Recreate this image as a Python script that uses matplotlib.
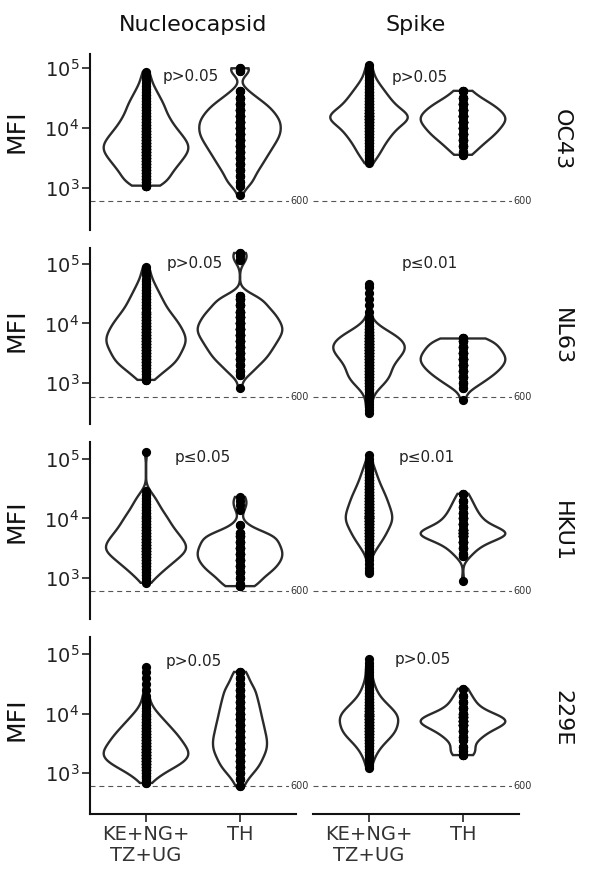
import numpy as np
import matplotlib
matplotlib.use("Agg")
import matplotlib.pyplot as plt
from matplotlib.transforms import blended_transform_factory

# ---------------- data (MFI values and how many samples share each value) ----------------
antigens = ["Nucleocapsid", "Spike"]
viruses = ["OC43", "NL63", "HKU1", "229E"]
groups = ["KE+NG+\nTZ+UG", "TH"]
cutoff = 600

p_labels = ["p>0.05", "p>0.05",
            "p>0.05", "p\u22640.01",
            "p\u22640.05", "p\u22640.01",
            "p>0.05", "p>0.05"]

oc43_n_ke_mfi = [1100, 1260, 1410, 1580, 1780, 2000, 2240, 2510, 2820, 3160, 3550, 3980, 4470, 5010, 5620, 6310, 7080, 7940, 8910, 10000,
                 11200, 12600, 14100, 15800, 17800, 20000, 22400, 25100, 28200, 31600, 35500, 39800, 44700, 50100, 56200, 63100, 70800, 79400, 87000]
oc43_n_ke_cnt = [6, 4, 5, 5, 5, 6, 6, 7, 7, 8, 8, 9, 9, 9, 9, 8, 8, 7, 7, 6,
                 6, 5, 5, 5, 4, 4, 4, 4, 3, 3, 3, 2, 2, 2, 1, 1, 1, 1, 1]
oc43_n_th_mfi = [770, 1100, 1260, 1580, 2000, 2510, 3160, 3980, 5010, 6310, 7940, 10000, 12600, 15800, 20000, 25100, 31600, 41000, 89000, 95000, 100000]
oc43_n_th_cnt = [1, 2, 3, 4, 5, 6, 7, 8, 9, 10, 11, 11, 11, 10, 9, 7, 5, 3, 2, 2, 2]
oc43_s_ke_mfi = [2600, 2820, 3160, 3550, 3980, 4470, 5010, 5620, 6310, 7080, 7940, 8910, 10000, 11200, 12600, 14100, 15800, 17800,
                 20000, 22400, 25100, 28200, 31600, 35500, 39800, 44700, 50100, 56200, 63100, 70800, 79400, 89100, 100000, 115000]
oc43_s_ke_cnt = [1, 1, 2, 2, 3, 3, 3, 4, 4, 5, 5, 6, 6, 7, 8, 10, 11, 9,
                 7, 6, 6, 5, 5, 4, 4, 3, 3, 2, 2, 1, 1, 1, 1, 1]
oc43_s_th_mfi = [3600, 3980, 5010, 6310, 7940, 10000, 12600, 15800, 20000, 25100, 31600, 42000]
oc43_s_th_cnt = [2, 3, 6, 8, 11, 12, 14, 15, 12, 10, 6, 4]

nl63_n_ke_mfi = [1140, 1260, 1410, 1580, 1780, 2000, 2240, 2510, 2820, 3160, 3550, 3980, 4470, 5010, 5620, 6310, 7080, 7940, 8910, 10000,
                 11200, 12600, 14100, 15800, 17800, 20000, 22400, 25100, 28200, 31600, 35500, 39800, 44700, 50100, 56200, 63100, 70800, 79400, 88000]
nl63_n_ke_cnt = [3, 2, 3, 4, 5, 6, 7, 7, 7, 8, 8, 8, 9, 9, 9, 9, 8, 8, 8, 7,
                 7, 6, 6, 5, 5, 4, 4, 4, 3, 3, 3, 2, 2, 2, 1, 1, 1, 1, 1]
nl63_n_th_mfi = [830, 1380, 1580, 2000, 2510, 3160, 3980, 5010, 6310, 7940, 10000, 12600, 15800, 20000, 25100, 29000, 115000, 135000, 150000]
nl63_n_th_cnt = [1, 2, 3, 5, 7, 8, 9, 10, 11, 12, 11, 10, 9, 7, 6, 3, 2, 1, 2]
nl63_s_ke_mfi = [320, 355, 398, 447, 501, 562, 631, 708, 794, 891, 1000, 1120, 1260, 1410, 1580, 1780, 2000, 2240, 2510, 2820,
                 3160, 3550, 3980, 4470, 5010, 5620, 6310, 7080, 7940, 8910, 10000, 11200, 12600, 15800, 20000, 25100, 31600, 39800, 46000]
nl63_s_ke_cnt = [1, 1, 1, 1, 1, 1, 1, 2, 3, 4, 5, 6, 7, 7, 7, 7, 8, 8, 9, 10,
                 11, 12, 12, 12, 11, 10, 9, 7, 5, 3, 2, 1, 1, 1, 1, 1, 1, 1, 1]
nl63_s_th_mfi = [520, 830, 1000, 1260, 1580, 2000, 2510, 3160, 3980, 5010, 5600]
nl63_s_th_cnt = [1, 2, 4, 6, 8, 9, 10, 9, 8, 6, 4]

hku1_n_ke_mfi = [830, 891, 1000, 1120, 1260, 1410, 1580, 1780, 2000, 2240, 2510, 2820, 3160, 3550, 3980, 4470, 5010, 5620, 6310, 7080,
                 7940, 8910, 10000, 11200, 12600, 14100, 15800, 17800, 20000, 22400, 25100, 29000, 130000]
hku1_n_ke_cnt = [1, 1, 2, 3, 3, 4, 5, 6, 6, 7, 8, 9, 9, 9, 8, 8, 7, 7, 6, 6,
                 5, 5, 5, 4, 4, 3, 3, 3, 2, 2, 2, 1, 1]
hku1_n_th_mfi = [730, 800, 1000, 1260, 1580, 2000, 2510, 3160, 3980, 5010, 5600, 7700, 14000, 17000, 20000, 23000]
hku1_n_th_cnt = [3, 2, 4, 6, 7, 8, 8, 8, 7, 6, 4, 2, 1, 1, 1, 1]
hku1_s_ke_mfi = [1200, 1300, 1500, 1700, 2000, 2240, 2510, 2820, 3160, 3550, 3980, 4470, 5010, 5620, 6310, 7080, 7940, 8910, 10000, 11200,
                 12600, 14100, 15800, 17800, 20000, 22400, 25100, 28200, 31600, 35500, 39800, 44700, 50100, 56200, 63100, 70800, 79400, 89100, 100000, 118000]
hku1_s_ke_cnt = [1, 1, 1, 1, 1, 1, 2, 3, 4, 5, 6, 7, 8, 9, 9, 10, 11, 12, 12, 12,
                 11, 11, 10, 10, 9, 9, 8, 7, 7, 6, 5, 5, 4, 4, 3, 3, 2, 2, 1, 1]
hku1_s_th_mfi = [880, 2300, 2510, 3160, 3980, 5010, 5600, 6310, 7940, 10000, 12600, 15800, 20000, 26000]
hku1_s_th_cnt = [1, 2, 3, 6, 10, 13, 14, 12, 10, 8, 6, 5, 4, 3]

e229_n_ke_mfi = [680, 750, 830, 891, 1000, 1120, 1260, 1410, 1580, 1780, 2000, 2240, 2510, 2820, 3160, 3550, 3980, 4470, 5010, 5620,
                 6310, 7080, 7940, 8910, 10000, 11200, 12600, 14100, 15800, 17800, 20000, 25100, 31600, 39800, 50100, 60000]
e229_n_ke_cnt = [2, 1, 2, 3, 4, 6, 7, 9, 10, 11, 11, 11, 10, 10, 9, 9, 8, 8, 7, 6,
                 6, 5, 4, 4, 3, 2, 2, 1, 1, 1, 1, 1, 1, 1, 1, 1]
e229_n_th_mfi = [600, 790, 1000, 1260, 1580, 2000, 2510, 3160, 3980, 5010, 6310, 7940, 10000, 12600, 15800, 20000, 25100, 31600, 39800, 50000]
e229_n_th_cnt = [2, 3, 5, 7, 8, 9, 10, 10, 10, 9, 9, 8, 8, 7, 7, 6, 6, 4, 3, 3]
e229_s_ke_mfi = [1200, 1300, 1410, 1580, 1780, 2000, 2240, 2510, 2820, 3160, 3550, 3980, 4470, 5010, 5620, 6310, 7080, 7940, 8910, 10000,
                 11200, 12600, 14100, 15800, 17800, 20000, 22400, 25100, 28200, 31600, 35500, 39800, 44700, 50100, 56200, 63100, 70800, 83000]
e229_s_ke_cnt = [1, 1, 1, 1, 2, 2, 3, 3, 4, 5, 6, 7, 8, 9, 9, 9, 9, 10, 10, 9,
                 8, 7, 6, 5, 4, 3, 3, 2, 2, 2, 1, 1, 1, 1, 1, 1, 1, 1]
e229_s_th_mfi = [2000, 2300, 2700, 3600, 3980, 5010, 6310, 7400, 8600, 10000, 12600, 15800, 20000, 26000]
e229_s_th_cnt = [4, 3, 3, 3, 5, 8, 11, 12, 9, 7, 5, 4, 3, 2]

panel_data = [
    [(oc43_n_ke_mfi, oc43_n_ke_cnt, oc43_n_th_mfi, oc43_n_th_cnt),
     (oc43_s_ke_mfi, oc43_s_ke_cnt, oc43_s_th_mfi, oc43_s_th_cnt)],
    [(nl63_n_ke_mfi, nl63_n_ke_cnt, nl63_n_th_mfi, nl63_n_th_cnt),
     (nl63_s_ke_mfi, nl63_s_ke_cnt, nl63_s_th_mfi, nl63_s_th_cnt)],
    [(hku1_n_ke_mfi, hku1_n_ke_cnt, hku1_n_th_mfi, hku1_n_th_cnt),
     (hku1_s_ke_mfi, hku1_s_ke_cnt, hku1_s_th_mfi, hku1_s_th_cnt)],
    [(e229_n_ke_mfi, e229_n_ke_cnt, e229_n_th_mfi, e229_n_th_cnt),
     (e229_s_ke_mfi, e229_s_ke_cnt, e229_s_th_mfi, e229_s_th_cnt)],
]

# ---------------- layout / style ----------------
W, H = 600, 880
col_x = [89.6, 312.6]
col_w = 206.8
row_top = [54, 248, 442.5, 637]
row_h = 176.5
ylims = [(2.293, 5.238), (2.312, 5.259), (2.311, 5.277), (2.319, 5.286)]
p_pos = [(0.48, 4.855), (0.54, 4.84), (0.52, 5.0), (0.65, 5.0),
         (0.60, 5.02), (0.61, 5.02), (0.51, 4.88), (0.57, 4.9)]
mfi_y = [131, 330, 521, 719]
row_lab_y = [140, 337, 531, 718]
BW = 0.1
LINE = "#2b2b2b"

plt.rcParams["font.family"] = ["DejaVu Sans"]
fig = plt.figure(figsize=(6, 8.8), dpi=100)


def kde(logv, grid, bw):
    z = (grid[:, None] - logv[None, :]) / bw
    return np.exp(-0.5 * z * z).sum(axis=1) / (len(logv) * bw * np.sqrt(2 * np.pi))


for r in range(4):
    for c in range(2):
        ax = fig.add_axes([col_x[c] / W, 1 - (row_top[r] + row_h) / H, col_w / W, row_h / H])
        ax.set_yscale("log")
        ax.set_ylim(10 ** ylims[r][0], 10 ** ylims[r][1])
        ax.set_xlim(-0.6, 1.6)
        ke_v, ke_c, th_v, th_c = panel_data[r][c]
        samples = [np.repeat(np.asarray(ke_v, float), ke_c),
                   np.repeat(np.asarray(th_v, float), th_c)]
        curves = []
        for s in samples:
            lv = np.log10(s)
            grid = np.linspace(lv.min(), lv.max(), 512)
            curves.append((grid, kde(lv, grid, BW)))
        dmax = max(d.max() for _, d in curves)
        for pos, (grid, d), s in zip([0, 1], curves, samples):
            hw = 0.45 * d / dmax
            xs = np.r_[pos - hw, (pos + hw)[::-1]]
            ys = 10 ** np.r_[grid, grid[::-1]]
            ax.fill(xs, ys, facecolor="white", edgecolor=LINE, lw=1.7, zorder=2)
            ax.scatter(np.full(len(s), pos), s, s=44, c="black", linewidths=0, zorder=3)

        ax.axhline(cutoff, color="#555555", lw=0.8, ls=(0, (4.5, 3.5)), zorder=1)
        tr = blended_transform_factory(ax.transAxes, ax.transData)
        ax.text(1.015, cutoff, "600", transform=tr, ha="center", va="center",
                fontsize=7, color="#333333", clip_on=False, zorder=4,
                bbox=dict(facecolor="white", edgecolor="none", pad=0.8))
        px, py = p_pos[r * 2 + c]
        ax.text(px, 10 ** py, p_labels[r * 2 + c], ha="center", va="center",
                fontsize=11, color="#222222")

        for sp in ax.spines.values():
            sp.set_visible(False)
        ax.minorticks_off()
        if c == 0:
            ax.spines["left"].set_visible(True)
            ax.spines["left"].set_linewidth(1.5)
            ax.spines["left"].set_color("#111111")
            ax.set_yticks([1e3, 1e4, 1e5])
            ax.set_yticklabels([r"$10^{3}$", r"$10^{4}$", r"$10^{5}$"])
            ax.tick_params(axis="y", length=5.5, width=1.2, labelsize=14,
                           labelcolor="#222222", color="#222222", pad=2)
        else:
            ax.set_yticks([])
        if r == 3:
            ax.spines["bottom"].set_visible(True)
            ax.spines["bottom"].set_linewidth(1.5)
            ax.spines["bottom"].set_color("#111111")
            ax.set_xticks([0, 1])
            ax.set_xticklabels(groups, fontsize=14, color="#333333", linespacing=1.1)
            ax.tick_params(axis="x", length=5.5, width=1.2, color="#222222", pad=3)
        else:
            ax.set_xticks([])
        ax.patch.set_alpha(0)

# titles and labels
for c, name in enumerate(antigens):
    fig.text((col_x[c] + col_w / 2) / W, 1 - 25 / H, name, ha="center", va="center",
             fontsize=16, color="#111111")
for r, v in enumerate(viruses):
    fig.text(562 / W, 1 - row_lab_y[r] / H, v, rotation=-90, ha="center", va="center",
             fontsize=16, color="#111111")
    fig.text(17 / W, 1 - mfi_y[r] / H, "MFI", rotation=90, ha="center", va="center",
             fontsize=18, color="#111111")

fig.savefig("out.png", dpi=100, facecolor="white")
